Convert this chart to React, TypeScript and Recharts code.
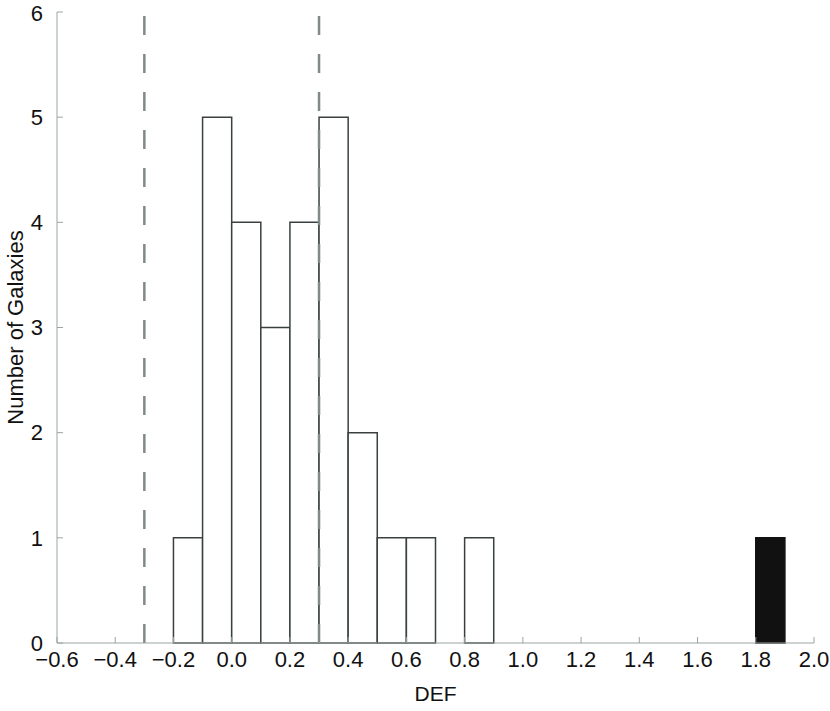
import React from 'react';
import { ComposedChart, XAxis, YAxis, ReferenceArea, ReferenceLine, Scatter } from 'recharts';

const binStarts = [-0.2, -0.1, 0.0, 0.1, 0.2, 0.3, 0.4, 0.5, 0.6, 0.8, 1.8];
const binCounts = [1, 5, 4, 3, 4, 5, 2, 1, 1, 1, 1];
const binHighlighted = [false, false, false, false, false, false, false, false, false, false, true];
const binWidth = 0.1;
const xTicks = [-0.6, -0.4, -0.2, 0.0, 0.2, 0.4, 0.6, 0.8, 1.0, 1.2, 1.4, 1.6, 1.8, 2.0];
const yTicks = [0, 1, 2, 3, 4, 5, 6];
const dashedLines = [-0.3, 0.3];

const bins = binStarts.map((s, i) => ({
  x1: Math.round(s * 10) / 10,
  x2: Math.round((s + binWidth) * 10) / 10,
  count: binCounts[i],
  hl: binHighlighted[i],
}));

const FRAME = '#9aa4a4';
const FONT = 'Liberation Sans, Arial, Helvetica, sans-serif';

const fmtX = (v: number) => {
  const s = Math.abs(v).toFixed(1);
  return v < -1e-9 ? '\u2212' + s : s;
};

export default function App() {
  return (
    <div style={{ position: 'absolute', left: 0, top: 0, width: 830, height: 711, background: '#fff' }}>
      <ComposedChart
        width={830}
        height={711}
        margin={{ top: 12, right: 16, bottom: 0, left: 0 }}
        style={{ fontFamily: FONT }}
      >
        <XAxis
          xAxisId="b"
          type="number"
          dataKey="x"
          domain={[-0.6, 2.0]}
          ticks={xTicks}
          tickFormatter={fmtX}
          orientation="bottom"
          height={68}
          allowDataOverflow
          stroke={FRAME}
          tickSize={-6}
          tickMargin={14}
          tick={{ fill: '#111', fontSize: 22, fontFamily: FONT }}
          label={{ value: 'DEF', position: 'insideBottom', offset: 10, fill: '#111', fontSize: 21, fontFamily: FONT }}
        />
        <XAxis
          xAxisId="t"
          type="number"
          dataKey="x"
          domain={[-0.6, 2.0]}
          ticks={xTicks}
          orientation="top"
          height={0}
          allowDataOverflow
          stroke={FRAME}
          tickSize={-6}
          tick={false}
        />
        <YAxis
          yAxisId="l"
          type="number"
          domain={[0, 6]}
          ticks={yTicks}
          width={57}
          allowDataOverflow
          stroke={FRAME}
          tickSize={-6}
          tickMargin={20}
          tick={{ fill: '#111', fontSize: 22, fontFamily: FONT }}
          label={{ value: 'Number of Galaxies', angle: -90, position: 'insideLeft', offset: 15, fill: '#111', fontSize: 22, fontFamily: FONT, style: { textAnchor: 'middle' } }}
        />
        <YAxis
          yAxisId="r"
          type="number"
          orientation="right"
          domain={[0, 6]}
          ticks={yTicks}
          width={0}
          allowDataOverflow
          stroke={FRAME}
          tickSize={-6}
          tick={false}
        />
        {bins.map((b, i) => (
          <ReferenceArea
            key={i}
            xAxisId="b"
            yAxisId="l"
            x1={b.x1}
            x2={b.x2}
            y1={0}
            y2={b.count}
            fill={b.hl ? '#111' : '#fff'}
            fillOpacity={1}
            stroke={b.hl ? '#111' : '#3a4040'}
            strokeWidth={1.5}
          />
        ))}
        {dashedLines.map((v) => (
          <ReferenceLine
            key={v}
            xAxisId="b"
            yAxisId="l"
            x={v}
            stroke="#808a8a"
            strokeWidth={2.5}
            strokeDasharray="19 19"
            segment={[{ x: v, y: 5.9 }, { x: v, y: 0 }]}
          />
        ))}
        <Scatter xAxisId="b" yAxisId="l" data={[]} dataKey="y" isAnimationActive={false} />
      </ComposedChart>
    </div>
  );
}
